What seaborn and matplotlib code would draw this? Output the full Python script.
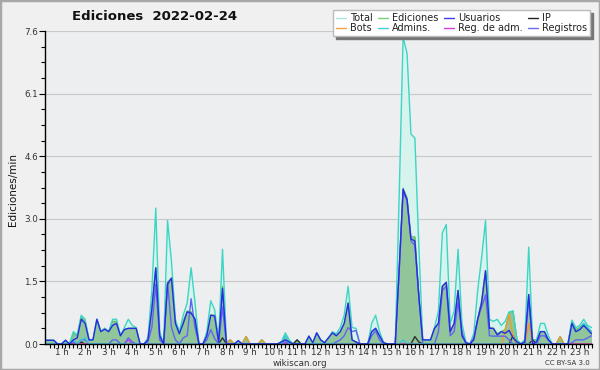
import numpy as np
import pandas as pd
import seaborn as sns
import matplotlib
matplotlib.use("Agg")
import matplotlib.pyplot as plt
from matplotlib.lines import Line2D
from matplotlib.patches import Rectangle

# ---- data (10-minute steps, 00:20 -> 23:30) ----
start_hour = 1 / 3
step_hour = 1 / 6

total = [0.09, 0.09, 0.09, 0, 0, 0.09, 0, 0.3, 0.22, 0.7,
         0.6, 0.1, 0.1, 0.6, 0.3, 0.38, 0.3, 0.6, 0.6, 0.2,
         0.4, 0.6, 0.45, 0.4, 0, 0, 0.15, 1.3, 3.3, 0.3,
         0, 3.0, 2.0, 0.6, 0.3, 0.7, 1.0, 1.85, 1.0, 0,
         0, 0.3, 1.05, 0.83, 0.1, 2.3, 0.05, 0.1, 0, 0.08,
         0, 0.18, 0, 0, 0, 0.1, 0, 0, 0, 0,
         0.05, 0.27, 0.1, 0, 0.1, 0, 0, 0.19, 0.03, 0.27,
         0.1, 0.03, 0.15, 0.3, 0.25, 0.4, 0.7, 1.4, 0.4, 0.38,
         0, 0, 0, 0.5, 0.7, 0.3, 0.05, 0, 0, 0,
         3.6, 7.45, 7.06, 5.1, 5.0, 2.4, 0.1, 0.1, 0.1, 0.4,
         0.8, 2.7, 2.9, 0.5, 0.8, 2.3, 0.5, 0.05, 0, 0.25,
         1.3, 2.1, 3.0, 0.6, 0.55, 0.6, 0.45, 0.55, 0.78, 0.8,
         0.1, 0, 0.1, 2.35, 0.1, 0.1, 0.5, 0.5, 0.2, 0,
         0, 0.18, 0, 0, 0.58, 0.4, 0.45, 0.6, 0.45, 0.4]

ediciones = [0.09, 0.09, 0.09, 0, 0, 0.09, 0, 0.25, 0.2, 0.65,
             0.55, 0.1, 0.1, 0.6, 0.3, 0.38, 0.3, 0.55, 0.55, 0.2,
             0.35, 0.38, 0.38, 0.38, 0, 0, 0.1, 0.9, 1.85, 0.2,
             0, 1.5, 1.6, 0.5, 0.25, 0.55, 0.8, 0.78, 0.6, 0,
             0, 0.2, 0.7, 0.7, 0.05, 1.4, 0.02, 0.1, 0, 0.08,
             0, 0.18, 0, 0, 0, 0.1, 0, 0, 0, 0,
             0.05, 0.2, 0.05, 0, 0.1, 0, 0, 0.19, 0.03, 0.27,
             0.1, 0.03, 0.15, 0.27, 0.2, 0.3, 0.5, 1.0, 0.1, 0.05,
             0, 0, 0, 0.3, 0.38, 0.2, 0.03, 0, 0, 0,
             1.8, 3.78, 3.55, 2.6, 2.6, 1.2, 0.1, 0.1, 0.1, 0.38,
             0.5, 1.4, 1.5, 0.3, 0.5, 1.3, 0.2, 0.03, 0, 0.1,
             0.6, 1.05, 1.78, 0.4, 0.38, 0.25, 0.3, 0.35, 0.75, 0.8,
             0.1, 0, 0.1, 1.2, 0.1, 0.1, 0.3, 0.3, 0.1, 0,
             0, 0.18, 0, 0, 0.55, 0.35, 0.4, 0.5, 0.4, 0.3]

usuarios = [0.09, 0.09, 0.09, 0, 0, 0.09, 0, 0.1, 0.15, 0.6,
            0.5, 0.1, 0.1, 0.6, 0.3, 0.36, 0.3, 0.45, 0.5, 0.2,
            0.35, 0.38, 0.38, 0.38, 0, 0, 0.1, 0.85, 1.85, 0.2,
            0, 1.45, 1.6, 0.5, 0.25, 0.5, 0.78, 0.75, 0.6, 0,
            0, 0.2, 0.7, 0.68, 0.05, 1.35, 0, 0, 0, 0.08,
            0, 0, 0, 0, 0, 0, 0, 0, 0, 0,
            0.05, 0.1, 0.05, 0, 0, 0, 0, 0.19, 0.03, 0.27,
            0.1, 0.03, 0.15, 0.27, 0.2, 0.3, 0.5, 0.99, 0.1, 0.05,
            0, 0, 0, 0.3, 0.38, 0.2, 0.03, 0, 0, 0,
            1.8, 3.76, 3.5, 2.55, 2.5, 1.15, 0.1, 0.1, 0.1, 0.38,
            0.5, 1.4, 1.5, 0.3, 0.5, 1.3, 0.2, 0.03, 0, 0.1,
            0.6, 1.0, 1.78, 0.38, 0.38, 0.22, 0.3, 0.26, 0.33, 0.15,
            0.05, 0, 0.05, 1.2, 0, 0.05, 0.3, 0.3, 0.1, 0,
            0, 0, 0, 0, 0.5, 0.3, 0.35, 0.45, 0.35, 0.25]

ip = [0] * 9 + [0.05] + [0] * 35 + [0.15] + [0] * 18 + [0.1] + [0] * 29 + \
     [0.18, 0.05] + [0] * 23 + [0.2] + [0] * 4 + [0.1] + [0] * 15

bots = [0] * 47 + [0.1, 0, 0, 0, 0.18, 0, 0, 0, 0.1] + [0] * 61 + \
       [0.3, 0.72, 0.2, 0, 0, 0, 0.5] + [0] * 7 + [0.18] + [0] * 8

admins = [0] * 7 + [0.1, 0, 0.1, 0.15] + [0] * 50 + [0.2] + [0] * 29 + \
         [0.1] + [0] * 42 + [0.5, 0.3, 0.35, 0.5, 0.4, 0.3]

reg_adm = [0] * 21 + [0.1] + [0] * 118

registros = [0, 0, 0, 0, 0, 0, 0, 0.05, 0, 0.1,
             0.1, 0, 0, 0, 0, 0, 0, 0.1, 0.1, 0,
             0, 0.15, 0.05, 0, 0, 0, 0.05, 0.4, 1.45, 0.1,
             0, 1.5, 0.4, 0.1, 0, 0.15, 0.2, 1.1, 0.4, 0,
             0, 0.1, 0.35, 0.13, 0, 0.9, 0, 0, 0, 0,
             0, 0, 0, 0, 0, 0, 0, 0, 0, 0,
             0, 0.05, 0, 0, 0, 0, 0, 0, 0, 0,
             0, 0, 0, 0, 0.05, 0.1, 0.2, 0.4, 0.3, 0.33,
             0, 0, 0, 0.2, 0.32, 0.1, 0, 0, 0, 0,
             1.8, 3.67, 3.5, 2.5, 2.4, 1.2, 0, 0, 0, 0,
             0.3, 1.3, 1.4, 0.2, 0.3, 1.0, 0.3, 0, 0, 0.15,
             0.6, 0.9, 1.19, 0.2, 0.19, 0.19, 0.19, 0.19, 0.1, 0,
             0, 0, 0, 1.1, 0, 0, 0.2, 0.2, 0.1, 0,
             0, 0, 0, 0, 0.03, 0.1, 0.1, 0.1, 0.15, 0.2]

hour_labels = [f"{h} h" for h in range(1, 24)]
y_ticks = [0, 1.52, 3.04, 4.56, 6.08, 7.6]

n = len(total)
hours = [start_hour + k * step_hour for k in range(n)]
df = pd.DataFrame({"hora": hours, "Total": total, "Ediciones": ediciones,
                   "Usuarios": usuarios, "IP": ip, "Bots": bots,
                   "Admins.": admins, "Reg. de adm.": reg_adm,
                   "Registros": registros})

colors = {"Total": "#3cd6c4", "Ediciones": "#5cbf5c", "Usuarios": "#2a2ae6",
          "IP": "#303030", "Bots": "#f09a30", "Admins.": "#3cc8dc",
          "Reg. de adm.": "#cc44dd", "Registros": "#6464f0"}
legend_colors = {"Total": "#a8e6e2", "Ediciones": "#7fcf7f", "Usuarios": "#3a3aee",
                 "IP": "#222222", "Bots": "#f0a040", "Admins.": "#40d0e0",
                 "Reg. de adm.": "#d040e0", "Registros": "#6a6af0"}

sns.set_theme(style="white")
plt.rcParams["font.family"] = ["DejaVu Sans"]

fig = plt.figure(figsize=(6, 3.7), dpi=100, facecolor="#f0f0f0")
ax = fig.add_axes([45 / 600, 26 / 370, 547 / 600, 313 / 370])
ax.set_facecolor("#eceef0")

ax.fill_between(df["hora"], df["Total"], color="#d6f3ee", zorder=1, lw=0)
ax.fill_between(df["hora"], df["Ediciones"], color="#8cc496", alpha=0.95, zorder=2, lw=0)

order = ["Ediciones", "Total", "IP", "Bots", "Reg. de adm.", "Registros", "Admins.", "Usuarios"]
for k, name in enumerate(order):
    sns.lineplot(data=df, x="hora", y=name, color=colors[name], ax=ax,
                 linewidth=1.0, zorder=3 + k, legend=False)

ax.set_xlim(0.297, 23.52)
ax.set_ylim(0, 7.6)
ax.set_yticks(y_ticks)
ax.set_yticklabels([f"{v:.1f}" for v in y_ticks], fontsize=6.3, color="#333333")
ax.set_yticks(np.arange(0, 7.61, 0.38), minor=True)
ax.set_xticks(range(1, 24))
ax.set_xticklabels(hour_labels, fontsize=6.3, color="#333333")
ax.set_xticks(np.arange(0.5, 23.52, 1 / 6), minor=True)
ax.tick_params(axis="y", which="major", direction="out", length=4, width=0.8,
               color="black", pad=1, left=True)
ax.tick_params(axis="x", which="major", direction="out", length=3, width=0.8,
               color="black", pad=0, bottom=True)
ax.tick_params(axis="both", which="minor", direction="out", length=3, width=0.8,
               color="black", bottom=True, left=True)
ax.grid(axis="y", which="major", color="#c8c8c8", linewidth=0.8, zorder=0)
ax.set_axisbelow(True)
for s in ["top", "right"]:
    ax.spines[s].set_visible(False)
for s in ["left", "bottom"]:
    ax.spines[s].set_color("black")
    ax.spines[s].set_linewidth(1)
    ax.spines[s].set_zorder(20)
ax.set_xlabel("")
ax.set_ylabel("")

fig.text(155 / 600, 1 - 17 / 370, "Ediciones  2022-02-24", ha="center", va="center",
         fontsize=9.5, fontweight="bold", color="#111111")
fig.text(13 / 600, 1 - 190 / 370, "Ediciones/min", rotation=90, ha="center",
         va="center", fontsize=7.5, color="#111111")
fig.text(300 / 600, 1 - 363 / 370, "wikiscan.org", ha="center", va="center",
         fontsize=6.3, color="#333333")
fig.text(590 / 600, 1 - 363 / 370, "CC BY-SA 3.0", ha="right", va="center",
         fontsize=5, color="#333333")

names = ["Total", "Bots", "Ediciones", "Admins.", "Usuarios", "Reg. de adm.", "IP", "Registros"]
handles = [Line2D([0], [0], color=legend_colors[nm], lw=1) for nm in names]
leg = fig.legend(handles, names, loc="upper right", ncol=4,
                 bbox_to_anchor=(590 / 600, 1 - 10 / 370), fontsize=7,
                 frameon=True, fancybox=False, shadow={"color": "#777777", "alpha": 1},
                 edgecolor="#bbbbbb", facecolor="white", framealpha=1,
                 handlelength=1.0, handletextpad=0.4, columnspacing=0.6,
                 labelspacing=0.05, borderpad=0.3, borderaxespad=0)
for t in leg.get_texts():
    t.set_color("#222222")

fig.add_artist(Rectangle((0, 0), 1, 1, transform=fig.transFigure, fill=False,
                         edgecolor="#a8a8a8", linewidth=2.5))

fig.savefig("out.png", dpi=100, facecolor=fig.get_facecolor())
